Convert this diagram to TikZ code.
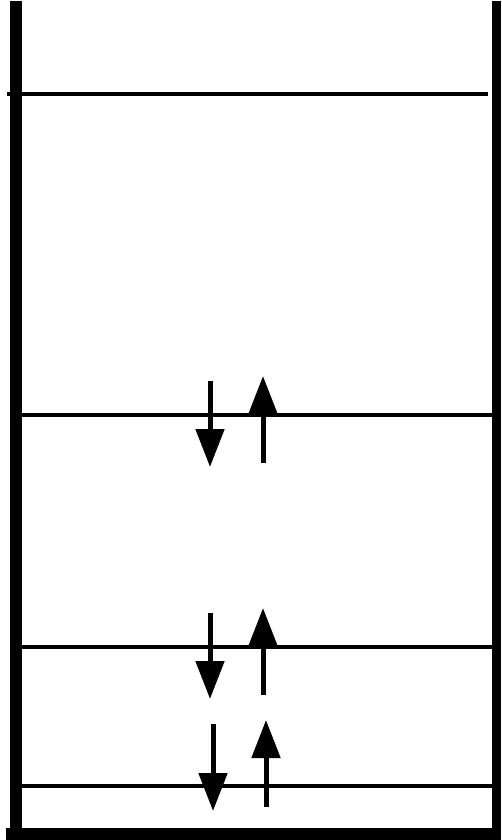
\documentclass[tikz,border=0pt]{standalone}
\usepackage{tikz}
\usetikzlibrary{arrows.meta}

\begin{document}
\begin{tikzpicture}[x=1pt,y=-1pt,
  wall/.style={line width=12pt},
  level/.style={line width=3.6pt},
  spin/.style={line width=5pt,-{Triangle[length=38pt,width=28pt]}}]
\useasboundingbox (0,0) rectangle (501,840);
% box walls
\draw[wall] (16,1) -- (16,834);
\draw[wall] (6,834) -- (501,834);
\draw[line width=9.5pt] (496.25,1) -- (496.25,834);
% levels
\draw[level] (7,94) -- (488,94);
\draw[level] (22,415) coordinate (lvA) -- (492,415);
\draw[level] (22,647) coordinate (lvB) -- (492,647);
\draw[level] (22,786) coordinate (lvC) -- (492,786);
% electron pairs
\draw[spin] ([shift={(188,-34)}]lvA) coordinate (dnA) -- ([shift={(188,52)}]lvA);
\draw[spin] ([shift={(241,48)}]lvA) coordinate (upA) -- ([shift={(241,-39)}]lvA);
\draw[spin] ([shift={(188,-34)}]lvB) coordinate (dnB) -- ([shift={(188,52)}]lvB);
\draw[spin] ([shift={(241,48)}]lvB) coordinate (upB) -- ([shift={(241,-39)}]lvB);
\draw[spin] ([shift={(191,-62)}]lvC) coordinate (dnC) -- ([shift={(191,25)}]lvC);
\draw[spin] ([shift={(244,21)}]lvC) coordinate (upC) -- ([shift={(244,-66)}]lvC);
\end{tikzpicture}
\end{document}
